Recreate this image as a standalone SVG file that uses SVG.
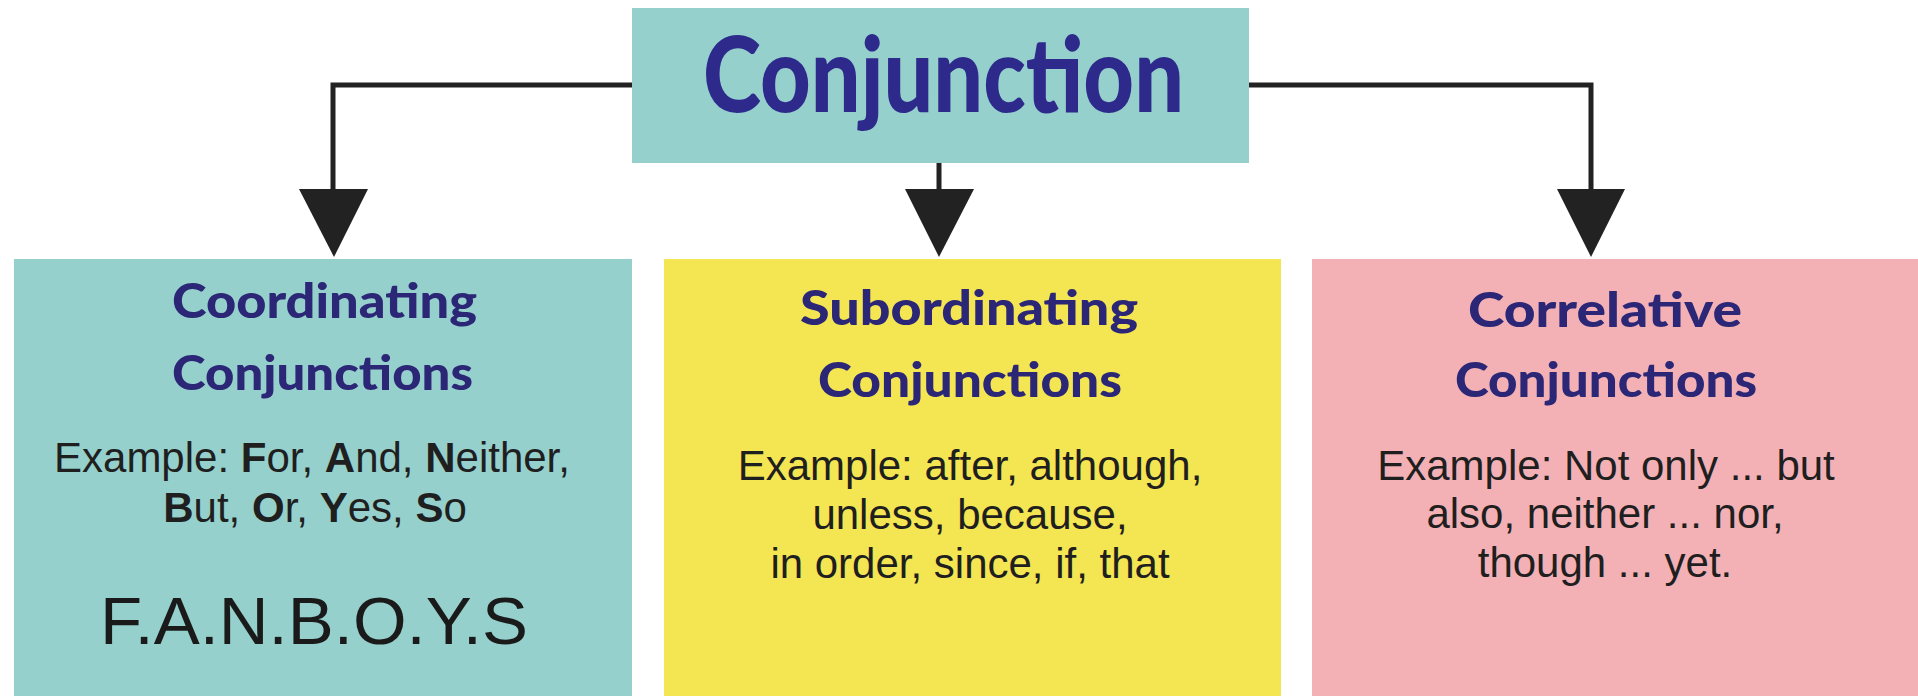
<svg xmlns="http://www.w3.org/2000/svg" width="1918" height="696" viewBox="0 0 1918 696">
<style>
.teal{fill:#95d0cc}
.yellow{fill:#f4e552}
.pink{fill:#f3b1b6}
.title{font-family:Lato,"Liberation Sans",sans-serif;font-weight:900;font-size:104px;fill:#2e2a8c}
.head{font-family:Lato,"Liberation Sans",sans-serif;font-weight:900;font-size:47px;fill:#2b2676}
.body{font-family:"Liberation Sans",Arial,sans-serif;font-size:42px;fill:#1f1f1f;text-anchor:middle}
.big{font-family:"Liberation Sans",Arial,sans-serif;font-size:67px;fill:#1a1a1a}
.b{font-weight:bold}
.line{fill:none;stroke:#222;stroke-width:5}
.head-arrow{fill:#222}
</style>
<rect width="1918" height="696" fill="#ffffff"/>
<g id="connectors">
  <polyline class="line" points="632,85 333,85 333,192"/>
  <polygon class="head-arrow" points="299,189 368,189 334,257"/>
  <line class="line" x1="939" y1="163" x2="939" y2="192"/>
  <polygon class="head-arrow" points="905,189 974,189 939,257"/>
  <polyline class="line" points="1249,85 1591,85 1591,192"/>
  <polygon class="head-arrow" points="1557,189 1625,189 1591,257"/>
</g>
<g id="conjunction">
  <rect class="teal" x="632" y="8" width="617" height="155"/>
  <text class="title" x="703" y="112" textLength="481" lengthAdjust="spacingAndGlyphs">Conjunction</text>
</g>
<g id="coordinating">
  <rect class="teal" x="14" y="259" width="618" height="437"/>
  <text class="head" x="172" y="318" textLength="305" lengthAdjust="spacingAndGlyphs">Coordinating</text>
  <text class="head" x="172" y="390" textLength="301" lengthAdjust="spacingAndGlyphs">Conjunctions</text>
  <text class="body" x="312" y="472">Example: <tspan class="b">F</tspan>or, <tspan class="b">A</tspan>nd, <tspan class="b">N</tspan>either,</text>
  <text class="body" x="315" y="522"><tspan class="b">B</tspan>ut, <tspan class="b">O</tspan>r, <tspan class="b">Y</tspan>es, <tspan class="b">S</tspan>o</text>
  <text class="big" x="100" y="644" textLength="428" lengthAdjust="spacingAndGlyphs">F.A.N.B.O.Y.S</text>
</g>
<g id="subordinating">
  <rect class="yellow" x="664" y="259" width="617" height="437"/>
  <text class="head" x="800" y="325" textLength="338" lengthAdjust="spacingAndGlyphs">Subordinating</text>
  <text class="head" x="818" y="397" textLength="304" lengthAdjust="spacingAndGlyphs">Conjunctions</text>
  <text class="body" x="970" y="480">Example: after, although,</text>
  <text class="body" x="970" y="529">unless, because,</text>
  <text class="body" x="970" y="578">in order, since, if, that</text>
</g>
<g id="correlative">
  <rect class="pink" x="1312" y="259" width="606" height="437"/>
  <text class="head" x="1468" y="327" textLength="274" lengthAdjust="spacingAndGlyphs">Correlative</text>
  <text class="head" x="1455" y="397" textLength="302" lengthAdjust="spacingAndGlyphs">Conjunctions</text>
  <text class="body" x="1606" y="480">Example: Not only ... but</text>
  <text class="body" x="1605" y="528">also, neither ... nor,</text>
  <text class="body" x="1605" y="577">though ... yet.</text>
</g>
</svg>
